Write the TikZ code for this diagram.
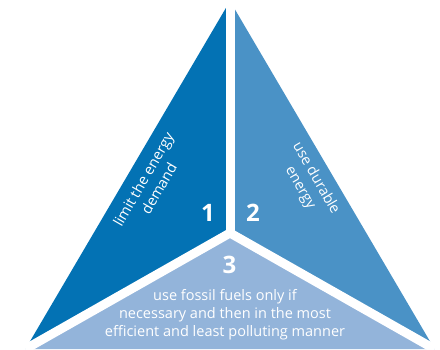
\documentclass[tikz,border=0pt]{standalone}
\usepackage{fontspec}
\setmainfont{Open Sans}
\usetikzlibrary{positioning}
\definecolor{darkblue}{HTML}{0372B4}
\definecolor{midblue}{HTML}{4A92C6}
\definecolor{lightblue}{HTML}{93B4DA}

\begin{document}
\begin{tikzpicture}[x=1pt, y=-1pt]
\useasboundingbox[fill=white] (0,0) rectangle (440,349);
% Corners
\coordinate (A) at (230,1);
\coordinate (BL) at (25.5,349);
\coordinate (BR) at (434.5,349);
\coordinate (C) at (230,233);

% Parts
\fill[darkblue] (C) -- (A) -- (BL) -- cycle;
\fill[midblue] (C) -- (A) -- (BR) -- cycle;
\fill[lightblue] (C) -- (BL) -- (BR) -- cycle;

% Gaps
\draw[white, line width=9pt] (C) -- (A);
\draw[white, line width=9pt] (C) -- (BL);
\draw[white, line width=9pt] (C) -- (BR);

% Labels
\node[text=white, rotate=60, align=center, font=\fontsize{14.5}{18}\selectfont] (demand) at (151,184) {limit the energy\\demand};
\node[text=white, rotate=-60, align=center, font=\fontsize{14.5}{18}\selectfont] (durable) at (308,183) {use durable\\energy};
\node[text=white, align=center, font=\fontsize{14.5}{18}\selectfont] (fossil) at (225,315) {use fossil fuels only if\\necessary and then in the most\\efficient and least polluting manner};

\node[text=white, font=\fontsize{24}{24}\selectfont\bfseries] (one) at (208,213) {1};
\node[text=white, font=\fontsize{24}{24}\selectfont\bfseries] (two) at (253,213) {2};
\node[text=white, font=\fontsize{24}{24}\selectfont\bfseries] (three) at (229.5,265) {3};
\end{tikzpicture}
\end{document}
